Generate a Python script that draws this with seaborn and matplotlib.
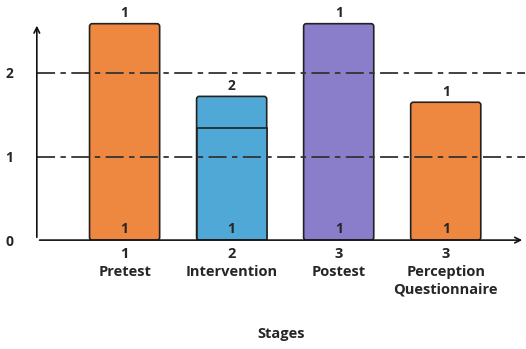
import numpy as np
import pandas as pd
import seaborn as sns
import matplotlib.pyplot as plt
from matplotlib.patches import FancyBboxPatch

# data
stages = ["1\nPretest", "2\nIntervention", "3\nPostest", "3\nPerception\nQuestionnaire"]
totals = [2.59, 1.72, 2.59, 1.65]
lower = [0, 1.34, 0, 0]                 # only intervention is split in two pieces
top_labels = ["1", "2", "1", "1"]
bottom_labels = ["1", "1", "1", "1"]
colors = ["#EE8740", "#50A8D6", "#8A7ECA", "#EE8740"]
ref_lines = [1, 2]

sns.set_style("white")
plt.rcParams['font.family'] = ['Open Sans', 'DejaVu Sans']

df = pd.DataFrame({"stage": stages, "total": totals, "lower": lower})

fig = plt.figure(figsize=(5.26, 3.49), dpi=100)
ax = fig.add_axes([0.070, 0.312, 0.928, 0.628])

sns.barplot(data=df, x="stage", y="total", hue="stage", palette=colors, saturation=1,
            width=0.655, edgecolor="#222222", linewidth=1.2, legend=False, ax=ax)
n_tot = len(ax.patches)

# rounded top corners for the full bars
for p in list(ax.patches)[:n_tot]:
    x, y = p.get_x(), p.get_y()
    w, h = p.get_width(), p.get_height()
    fb = FancyBboxPatch((x, y), w, h, boxstyle="round,pad=0,rounding_size=0.025",
                        mutation_aspect=1.3, facecolor=p.get_facecolor(),
                        edgecolor="#222222", linewidth=1.2, zorder=2)
    p.remove()
    ax.add_patch(fb)

sns.barplot(data=df, x="stage", y="lower", hue="stage", palette=colors, saturation=1,
            width=0.655, edgecolor="#222222", linewidth=1.2, legend=False, ax=ax)
for p in ax.patches:
    if not isinstance(p, FancyBboxPatch):
        p.set_zorder(2.5)
        if p.get_height() == 0:
            p.set_visible(False)

for yv in ref_lines:
    ax.axhline(yv, color="#333333", lw=1.3, ls=(0, (10, 3, 3, 3)), zorder=3)

for i, (t, lab, blab) in enumerate(zip(totals, top_labels, bottom_labels)):
    ax.text(i, t + 0.04, lab, ha="center", va="bottom", fontsize=10, fontweight="bold")
    ax.text(i, 0.05, blab, ha="center", va="bottom", fontsize=10, fontweight="bold", zorder=4)

ax.set_xlim(-0.82, 3.74)
ax.set_ylim(0, 2.623)
ax.set_yticks([0, 1, 2])
ax.set_yticklabels(["0", "1", "2"], fontsize=10, fontweight="bold")
ax.tick_params(axis="y", length=0, pad=17)
ax.tick_params(axis="x", length=0, pad=5)
for lab in ax.get_xticklabels():
    lab.set_fontsize(10.5)
    lab.set_fontweight("bold")
    lab.set_linespacing(1.35)
ax.set_xlabel("Stages", fontsize=10.5, fontweight="bold", labelpad=22)
ax.set_ylabel("")

for s in ax.spines.values():
    s.set_visible(False)
ax.annotate("", xy=(0, 2.6), xytext=(0, 0), xycoords=("axes fraction", "data"),
            arrowprops=dict(arrowstyle="->", lw=1.2, color="#111111"), annotation_clip=False)
ax.annotate("", xy=(1.0, 0), xytext=(0, 0), xycoords="axes fraction",
            arrowprops=dict(arrowstyle="->", lw=1.2, color="#111111"))

fig.savefig("out.png", dpi=100)
